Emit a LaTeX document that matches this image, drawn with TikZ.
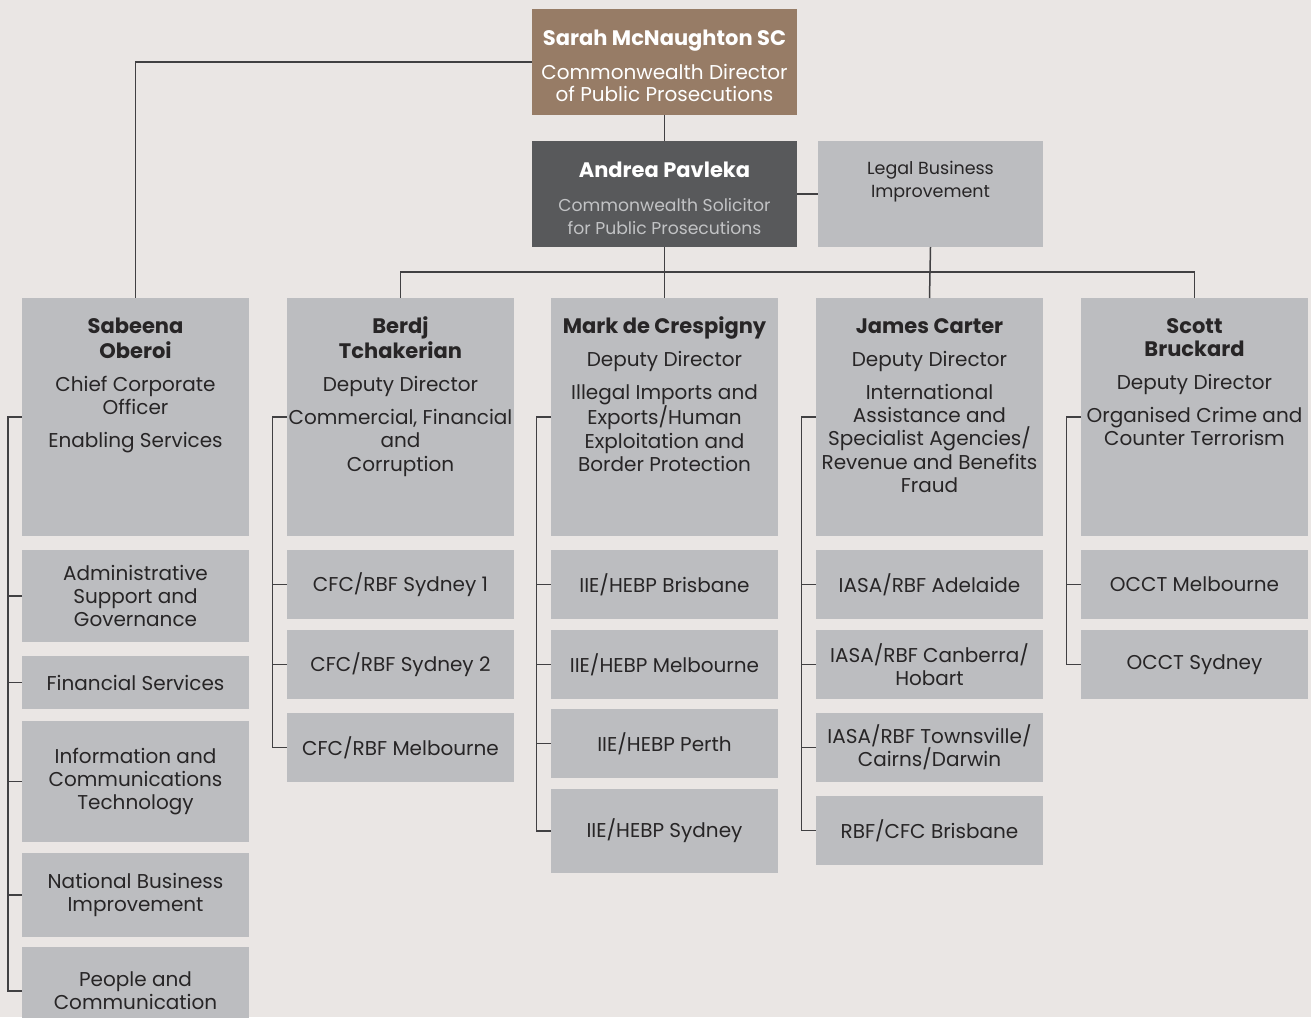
\documentclass[tikz,border=0pt]{standalone}
\usepackage{fontspec}
\setmainfont{Poppins}
\definecolor{bg}{HTML}{EAE6E4}
\definecolor{boxgray}{HTML}{BCBDC0}
\definecolor{brown}{HTML}{977C66}
\definecolor{darkbox}{HTML}{58595B}
\definecolor{linec}{HTML}{414042}
\definecolor{txt}{HTML}{272526}
\definecolor{subtxt}{HTML}{C2C3C5}
\tikzset{
  box/.style={fill=boxgray, inner sep=0pt, outer sep=0pt, anchor=north west, align=center,
    minimum width=227pt, text=txt, font=\fontsize{20}{23.3}\selectfont},
  hdrtext/.style={anchor=north, inner sep=0pt, align=center, text=txt, font=\fontsize{20}{23.4}\selectfont},
  conn/.style={draw=linec, line width=1.5pt},
}
\newcommand{\gap}{\\[9.4pt]}
\newcommand{\nm}[1]{{\fontsize{21}{23.4}\selectfont\bfseries\strut #1}}
\begin{document}
\begin{tikzpicture}[x=1pt,y=-1pt]
\fill[bg] (0,0) rectangle (1311,1017);
\useasboundingbox (0,0) rectangle (1311,1017);

% top boxes
\node[box, fill=brown, minimum width=265pt, minimum height=106pt] (sarah) at (532,9) {};
\node[hdrtext, text=white, font=\fontsize{20}{22.4}\selectfont] (sarahT) at (664.5,30) {{\fontsize{21}{22.5}\selectfont\bfseries\strut Sarah McNaughton SC}\\[11.2pt]Commonwealth Director\\of Public Prosecutions};
\node[box, fill=darkbox, minimum width=265pt, minimum height=106pt] (andrea) at (532,141) {};
\node[hdrtext, text=subtxt, font=\fontsize{17.2}{22.7}\selectfont] (andreaT) at (664.5,161.5) {{\color{white}\fontsize{21}{22.5}\selectfont\bfseries\strut Andrea Pavleka}\\[11.3pt]Commonwealth Solicitor\\for Public Prosecutions};
\node[box, minimum width=225pt, minimum height=106pt] (legal) at (818,141) {};
\node[hdrtext, font=\fontsize{17.5}{23}\selectfont] (legalT) at (930.5,158.2) {\strut Legal Business\\Improvement};

% header boxes
\node[box, minimum height=238pt] (sab) at (22,298) {};
\node[hdrtext] (sabT) at (135.5,316.9) {\nm{Sabeena}\\\nm{Oberoi}\gap Chief Corporate\\Officer\gap Enabling Services};
\node[box, minimum height=238pt] (berdj) at (287,298) {};
\node[hdrtext] (berdjT) at (400.5,316.9) {\nm{Berdj}\\\nm{Tchakerian}\gap Deputy Director\gap Commercial, Financial\\and\\Corruption};
\node[box, minimum height=238pt] (mark) at (551,298) {};
\node[hdrtext] (markT) at (664.5,316.9) {\nm{Mark de Crespigny}\gap Deputy Director\gap Illegal Imports and\\Exports/Human\\Exploitation and\\Border Protection};
\node[box, minimum height=238pt] (james) at (816,298) {};
\node[hdrtext] (jamesT) at (929.5,316.9) {\nm{James Carter}\gap Deputy Director\gap International\\Assistance and\\Specialist Agencies/\\Revenue and Benefits\\Fraud};
\node[box, minimum height=238pt] (scott) at (1081,298) {};
\node[hdrtext] (scottT) at (1194.5,316.9) {\nm{Scott}\\\nm{Bruckard}\gap Deputy Director\gap Organised Crime and\\Counter Terrorism};

% column 1
\node[box, minimum height=92pt] (admin) at (22,550) {Administrative\\Support and\\Governance};
\node[box, minimum height=53pt] (fin) at (22,656) {Financial Services};
\node[box, minimum height=121pt] (ict) at (22,721) {Information and\\Communications\\Technology};
\node[box, minimum height=84pt] (nbi) at (22,853) {National Business\\Improvement};
\node[box, minimum height=88pt] (people) at (22,947) {People and\\Communication};

% column 2
\node[box, minimum height=69pt] (cfca) at (287,550) {CFC/RBF Sydney 1};
\node[box, minimum height=69pt] (cfcb) at (287,630) {CFC/RBF Sydney 2};
\node[box, minimum height=69pt] (cfcc) at (287,713) {CFC/RBF Melbourne};

% column 3
\node[box, minimum height=69pt] (iiea) at (551,550) {IIE/HEBP Brisbane};
\node[box, minimum height=69pt] (iieb) at (551,630) {IIE/HEBP Melbourne};
\node[box, minimum height=69pt] (iiec) at (551,709) {IIE/HEBP Perth};
\node[box, minimum height=84pt] (iied) at (551,789) {IIE/HEBP Sydney};

% column 4
\node[box, minimum height=69pt] (iasaa) at (816,550) {IASA/RBF Adelaide};
\node[box, minimum height=69pt] (iasab) at (816,630) {IASA/RBF Canberra/\\Hobart};
\node[box, minimum height=69pt] (iasac) at (816,713) {IASA/RBF Townsville/\\Cairns/Darwin};
\node[box, minimum height=69pt] (rbf) at (816,796) {RBF/CFC Brisbane};

% column 5
\node[box, minimum height=69pt] (occta) at (1081,550) {OCCT Melbourne};
\node[box, minimum height=69pt] (occtb) at (1081,630) {OCCT Sydney};

% connectors top
\draw[conn] (sarah.south) -- (andrea.north);
\draw[conn] (sarah.west) -| (sab.north);
\draw[conn] (andrea.east) -- (legal.west);
\draw[conn] (andrea.south) -- (mark.north);
\draw[conn] (berdj.north) -- ++(0,-26) -| (scott.north);
\draw[conn] (legal.south) -- (james.north);

% brackets
\draw[conn] (sab.west) -- ++(-14,0) |- (people.west);
\foreach \n in {admin,fin,ict,nbi} \draw[conn] (\n.west) -- ++(-14,0);
\draw[conn] (berdj.west) -- ++(-14.5,0) |- (cfcc.west);
\foreach \n in {cfca,cfcb} \draw[conn] (\n.west) -- ++(-14.5,0);
\draw[conn] (mark.west) -- ++(-14.5,0) |- (iied.west);
\foreach \n in {iiea,iieb,iiec} \draw[conn] (\n.west) -- ++(-14.5,0);
\draw[conn] (james.west) -- ++(-14.5,0) |- (rbf.west);
\foreach \n in {iasaa,iasab,iasac} \draw[conn] (\n.west) -- ++(-14.5,0);
\draw[conn] (scott.west) -- ++(-14.5,0) |- (occtb.west);
\draw[conn] (occta.west) -- ++(-14.5,0);
\end{tikzpicture}
\end{document}
